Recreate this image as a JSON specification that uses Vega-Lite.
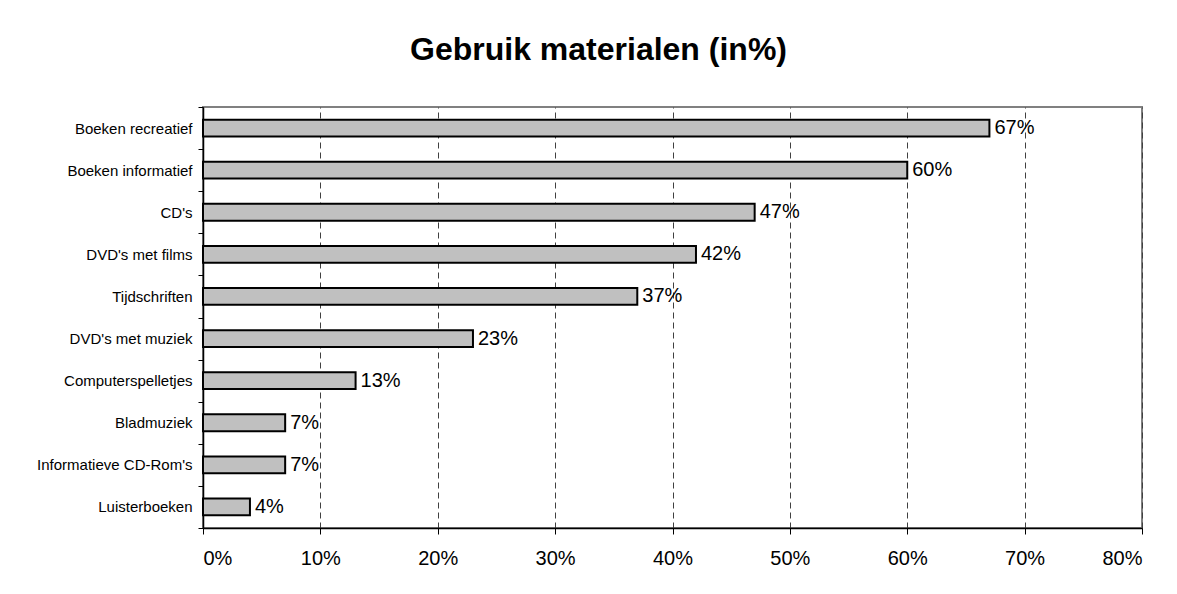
{
  "$schema": "https://vega.github.io/schema/vega-lite/v6.json",
  "autosize": {"type": "none"},
  "width": 939,
  "height": 421,
  "padding": {"left": 203, "top": 107, "right": 35, "bottom": 66},
  "background": "white",
  "title": {
    "text": "Gebruik materialen (in%)",
    "font": "Liberation Sans",
    "fontSize": 32,
    "fontWeight": "bold",
    "color": "black",
    "anchor": "middle",
    "dx": -74,
    "offset": 33
  },
  "data": {
    "values": [
      {"materiaal": "Boeken recreatief", "waarde": 0.67},
      {"materiaal": "Boeken informatief", "waarde": 0.60},
      {"materiaal": "CD's", "waarde": 0.47},
      {"materiaal": "DVD's met films", "waarde": 0.42},
      {"materiaal": "Tijdschriften", "waarde": 0.37},
      {"materiaal": "DVD's met muziek", "waarde": 0.23},
      {"materiaal": "Computerspelletjes", "waarde": 0.13},
      {"materiaal": "Bladmuziek", "waarde": 0.07},
      {"materiaal": "Informatieve CD-Rom's", "waarde": 0.07},
      {"materiaal": "Luisterboeken", "waarde": 0.04}
    ]
  },
  "encoding": {
    "y": {
      "field": "materiaal",
      "type": "nominal",
      "sort": null,
      "scale": {"paddingInner": 0, "paddingOuter": 0},
      "axis": {
        "title": null,
        "tickBand": "extent",
        "tickSize": 5,
        "tickColor": "black",
        "domainColor": "black",
        "domainWidth": 1.5,
        "labelFont": "Liberation Sans",
        "labelFontSize": 15,
        "labelColor": "black",
        "labelPadding": 6,
        "grid": false
      }
    },
    "x": {
      "field": "waarde",
      "type": "quantitative",
      "scale": {"domain": [0, 0.8], "nice": false},
      "axis": {
        "title": null,
        "values": [0, 0.1, 0.2, 0.3, 0.4, 0.5, 0.6, 0.7, 0.8],
        "format": ".0%",
        "tickSize": 6,
        "tickColor": "black",
        "domainColor": "black",
        "domainWidth": 1.5,
        "labelFont": "Liberation Sans",
        "labelFontSize": 20,
        "labelColor": "black",
        "labelPadding": 14,
        "grid": true,
        "gridColor": "#404040",
        "gridDash": [6, 4],
        "gridWidth": 1
      }
    }
  },
  "layer": [
    {
      "mark": {"type": "bar", "height": {"band": 0.4}, "fill": "#c0c0c0", "stroke": "black", "strokeWidth": 2}
    },
    {
      "mark": {"type": "text", "align": "left", "baseline": "middle", "dx": 5, "font": "Liberation Sans", "fontSize": 20, "color": "black"},
      "encoding": {"text": {"field": "waarde", "type": "quantitative", "format": ".0%"}}
    }
  ],
  "config": {
    "view": {"stroke": "#808080", "strokeWidth": 2}
  }
}
